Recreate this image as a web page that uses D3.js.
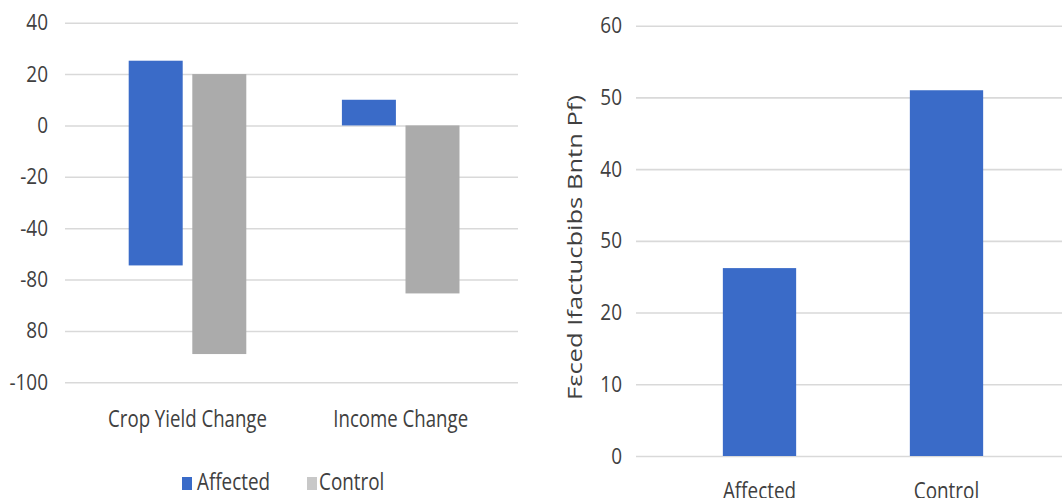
<!DOCTYPE html>
<html>
<head>
<meta charset="utf-8">
<script src="https://cdn.jsdelivr.net/npm/d3@7"></script>
<style>
  html, body { margin: 0; padding: 0; background: #ffffff; }
  svg { display: block; }
  text { font-family: "Open Sans", "Liberation Sans", Arial, sans-serif; fill: #404040; }
</style>
</head>
<body>
<svg id="chart" width="1062" height="498"></svg>
<script>
// ---- Left panel: change in crop yield and income ----
const categories = ["Crop Yield Change", "Income Change"];
const seriesNames = ["Affected", "Control"];
const affectedLow = [-54.5, 0];
const affectedHigh = [25.2, 10];
const controlLow = [-89, -65.4];
const controlHigh = [20, 0];
const leftTickValues = [40, 20, 0, -20, -40, -60, -80, -100];
const leftTickLabels = ["40", "20", "0", "-20", "-40", "-80", "80", "-100"];

// ---- Right panel: share by group ----
const groups = ["Affected", "Control"];
const groupValues = [26.2, 51];
const rightTickValues = [0, 10, 20, 30, 40, 50, 60];
const rightTickLabels = ["0", "10", "20", "50", "40", "50", "60"];
const rightTitle = "Fεced Ifactucbibs Bntn  Pf)";

const colors = { Affected: "#3a6bc8", Control: "#ababab" };
const legendColors = { Affected: "#3a6bc8", Control: "#c8c8c8" };
const gridColor = "#d9d9d9";
const FONT = "'Open Sans', 'Liberation Sans', Arial, sans-serif";

const svg = d3.select("#chart");

// squeeze a text horizontally to a narrow, Calibri-like width
function condense(sel, k) {
  sel.each(function () {
    const w = this.getComputedTextLength();
    d3.select(this).attr("textLength", w * k).attr("lengthAdjust", "spacingAndGlyphs");
  });
}

// ================= Left panel =================
const L = { left: 65, right: 518, top: 22.7, bottom: 382.3 };
const yL = d3.scaleLinear().domain([-100, 40]).range([L.bottom, L.top]);
const xL = d3.scaleBand().domain(categories).range([80.9, 507.3]).padding(0);
const xSub = d3.scaleBand().domain(seriesNames).range([-58.8, 58.8]).paddingInner(0.151);

const gL = svg.append("g");

// gridlines + tick labels
const axL = d3.axisLeft(yL)
  .tickValues(leftTickValues)
  .tickFormat((d, i) => leftTickLabels[i])
  .tickSize(-(L.right - L.left))
  .tickPadding(17);
gL.append("g")
  .attr("transform", `translate(${L.left},0)`)
  .call(axL)
  .call(g => g.select(".domain").remove())
  .call(g => g.selectAll(".tick line").attr("stroke", gridColor).attr("stroke-width", 1.6))
  .call(g => g.selectAll(".tick text")
    .attr("fill", "#404040")
    .style("font-size", "22px")
    .style("font-family", FONT)
    .call(condense, 0.86));

// floating bars
const leftRows = categories.map((c, i) => ([
  { cat: c, series: "Affected", lo: affectedLow[i], hi: affectedHigh[i] },
  { cat: c, series: "Control", lo: controlLow[i], hi: controlHigh[i] }
])).flat();

gL.append("g").selectAll("rect")
  .data(leftRows)
  .join("rect")
  .attr("x", d => xL(d.cat) + xL.bandwidth() / 2 + xSub(d.series))
  .attr("width", xSub.bandwidth())
  .attr("y", d => yL(d.hi))
  .attr("height", d => yL(d.lo) - yL(d.hi))
  .attr("fill", d => colors[d.series]);

// category labels
gL.append("g").selectAll("text")
  .data(categories)
  .join("text")
  .attr("x", d => xL(d) + xL.bandwidth() / 2)
  .attr("y", 427)
  .attr("text-anchor", "middle")
  .style("font-size", "23px")
  .text(d => d)
  .call(condense, 0.81);

// legend
const legendSwatchX = [182, 307];
const legendTextX = [197, 319];
const lg = gL.append("g").selectAll("g")
  .data(seriesNames)
  .join("g");
lg.append("rect")
  .attr("x", (d, i) => legendSwatchX[i]).attr("y", 477)
  .attr("width", 10).attr("height", 13)
  .attr("fill", d => legendColors[d]);
lg.append("text")
  .attr("x", (d, i) => legendTextX[i]).attr("y", 489.5)
  .style("font-size", "23px")
  .text(d => d)
  .call(condense, 0.82);

// ================= Right panel =================
const R = { left: 636, right: 1062, top: 25.7, bottom: 456 };
const yR = d3.scaleLinear().domain([0, 60]).range([R.bottom, R.top]);
const xR = d3.scaleBand().domain(groups).range([666, 1040]).padding(0);
const barW = xR.bandwidth() * 0.392;

const gR = svg.append("g");

const axR = d3.axisLeft(yR)
  .tickValues(rightTickValues)
  .tickFormat((d, i) => rightTickLabels[i])
  .tickSize(-(R.right - R.left))
  .tickPadding(14);
gR.append("g")
  .attr("transform", `translate(${R.left},0)`)
  .call(axR)
  .call(g => g.select(".domain").remove())
  .call(g => g.selectAll(".tick line").attr("stroke", gridColor).attr("stroke-width", 1.6))
  .call(g => g.selectAll(".tick text")
    .attr("fill", "#404040")
    .style("font-size", "22px")
    .style("font-family", FONT)
    .call(condense, 0.86));

gR.append("g").selectAll("rect")
  .data(groups.map((g, i) => ({ group: g, value: groupValues[i] })))
  .join("rect")
  .attr("x", d => xR(d.group) + (xR.bandwidth() - barW) / 2)
  .attr("width", barW)
  .attr("y", d => yR(d.value))
  .attr("height", d => yR(0) - yR(d.value))
  .attr("fill", colors.Affected);

gR.append("g").selectAll("text")
  .data(groups)
  .join("text")
  .attr("x", d => xR(d) + xR.bandwidth() / 2)
  .attr("y", 499)
  .attr("text-anchor", "middle")
  .style("font-size", "23px")
  .text(d => d)
  .call(condense, 0.82);

// vertical axis title
gR.append("text")
  .attr("transform", "translate(582,247.5) rotate(-90)")
  .attr("text-anchor", "middle")
  .attr("textLength", 305)
  .attr("lengthAdjust", "spacingAndGlyphs")
  .style("font-size", "20px")
  .attr("fill", "#505050")
  .text(rightTitle);
</script>
</body>
</html>
